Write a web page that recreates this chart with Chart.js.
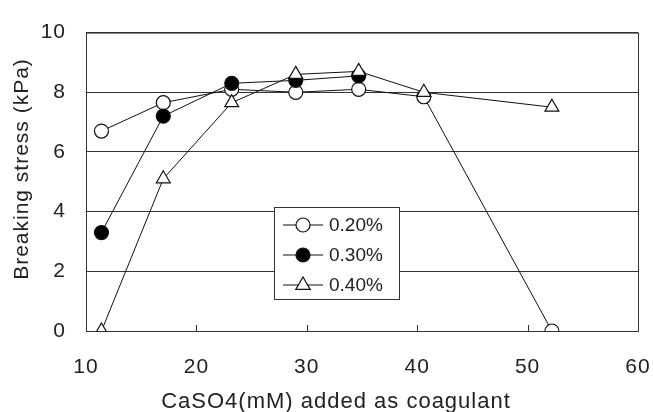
<html lang="en">
<head>
    <meta charset="UTF-8">
    <title>Breaking stress vs CaSO4</title>
    <script src="https://cdn.jsdelivr.net/npm/chart.js"></script>
    <style>
        body { margin: 0; background: #fff; }
        #wrap { width: 653px; height: 412px; }
    </style>
</head>
<body>
<div id="wrap"><canvas id="chart" width="653" height="412"></canvas></div>
<script>
    // data
    const caso4 = [11.4, 17.0, 23.2, 29.0, 34.7, 40.6, 52.2];
    const stress020 = [6.7, 7.65, 8.1, 8.0, 8.1, 7.85, 0];
    const stress030 = [3.3, 7.2, 8.3, 8.4, 8.55, null, null];
    const stress040 = [0, 5.1, 7.65, 8.6, 8.7, 8.0, 7.5];
    const seriesLabels = ["0.20%", "0.30%", "0.40%"];
    const xTicks = [10, 20, 30, 40, 50, 60];
    const yTicks = [0, 2, 4, 6, 8, 10];
    const xTitle = "CaSO4(mM) added as coagulant";
    const yTitle = "Breaking stress (kPa)";

    const font = "'Liberation Sans', Arial, sans-serif";
    const ink = "#222";

    function toPoints(vals) {
        const pts = [];
        vals.forEach((v, i) => { if (v !== null) pts.push({ x: caso4[i], y: v }); });
        return pts;
    }

    const styles = [
        { fill: "#fff", shape: "circle", order: 2 },
        { fill: "#000", shape: "circle", order: 1 },
        { fill: "#fff", shape: "triangle", order: 0 }
    ];
    const allSeries = [stress020, stress030, stress040];

    const datasets = allSeries.map((s, i) => ({
        label: seriesLabels[i],
        data: toPoints(s),
        order: styles[i].order,
        showLine: true,
        borderColor: "#111",
        borderWidth: 1,
        pointStyle: styles[i].shape,
        pointRadius: styles[i].shape === "triangle" ? 8 : 7,
        pointBackgroundColor: styles[i].fill,
        pointBorderColor: "#111",
        pointBorderWidth: 1.2
    }));

    // frame, inward x ticks, axis titles and the boxed legend inside the plot
    const extras = {
        id: "extras",
        beforeDraw(chart) {
            chart.ctx.letterSpacing = "1px";
        },
        afterDatasetsDraw(chart) {
            const ctx = chart.ctx;
            const a = chart.chartArea;
            const xs = chart.scales.x;
            ctx.save();
            ctx.strokeStyle = "#333";
            ctx.lineWidth = 1;
            ctx.strokeRect(a.left + 0.5, a.top + 0.5, a.right - a.left, a.bottom - a.top);
            xTicks.slice(1, -1).forEach(t => {
                const px = Math.round(xs.getPixelForValue(t)) + 0.5;
                ctx.beginPath();
                ctx.moveTo(px, a.bottom);
                ctx.lineTo(px, a.bottom - 6);
                ctx.stroke();
            });

            // axis titles
            ctx.fillStyle = ink;
            ctx.textAlign = "center";
            ctx.textBaseline = "middle";
            ctx.font = "22px " + font;
            ctx.letterSpacing = "1px";
            ctx.fillText(xTitle, 336, 402);
            ctx.save();
            ctx.translate(22, 169);
            ctx.rotate(-Math.PI / 2);
            ctx.font = "21px " + font;
            ctx.fillText(yTitle, 0, 0);
            ctx.restore();

            // legend box
            ctx.letterSpacing = "0px";
            const bx = 274, by = 207, bw = 125, bh = 92;
            ctx.fillStyle = "#fff";
            ctx.fillRect(bx, by, bw, bh);
            ctx.strokeStyle = "#333";
            ctx.lineWidth = 1;
            ctx.strokeRect(bx + 0.5, by + 0.5, bw, bh);
            chart.data.datasets.forEach((ds, i) => {
                const cy = by + 18 + i * 30;
                const mx = bx + 29;
                ctx.strokeStyle = "#111";
                ctx.lineWidth = 1;
                ctx.beginPath();
                ctx.moveTo(bx + 9, cy);
                ctx.lineTo(bx + 49, cy);
                ctx.stroke();
                ctx.fillStyle = ds.pointBackgroundColor;
                ctx.lineWidth = 1.2;
                ctx.beginPath();
                if (ds.pointStyle === "circle") {
                    ctx.arc(mx, cy, ds.pointRadius, 0, Math.PI * 2);
                } else {
                    const r = ds.pointRadius;
                    ctx.moveTo(mx, cy - r);
                    ctx.lineTo(mx + r * 0.9, cy + r * 0.55);
                    ctx.lineTo(mx - r * 0.9, cy + r * 0.55);
                    ctx.closePath();
                }
                ctx.fill();
                ctx.stroke();
                ctx.fillStyle = ink;
                ctx.font = "19px " + font;
                ctx.textBaseline = "middle";
                ctx.textAlign = "left";
                ctx.fillText(ds.label, bx + 55, cy + 1);
            });
            ctx.restore();
        }
    };

    new Chart(document.getElementById("chart"), {
        type: "scatter",
        data: { datasets: datasets },
        plugins: [extras],
        options: {
            responsive: false,
            animation: false,
            layout: { padding: { top: 25, right: 0, left: 0, bottom: 0 } },
            plugins: { legend: { display: false }, tooltip: { enabled: false } },
            scales: {
                x: {
                    min: 10, max: 60,
                    afterFit(scale) { scale.height = 81; scale.paddingRight = 15; scale.paddingLeft = 0; },
                    afterBuildTicks(scale) { scale.ticks = xTicks.map(v => ({ value: v })); },
                    grid: { display: false, drawTicks: false },
                    border: { display: false },
                    ticks: { color: ink, font: { family: font, size: 21 }, padding: 24, maxRotation: 0 }
                },
                y: {
                    min: 0, max: 10,
                    afterFit(scale) { scale.width = 86; },
                    afterBuildTicks(scale) { scale.ticks = yTicks.map(v => ({ value: v })); },
                    grid: { color: "#333", lineWidth: 1, drawTicks: false },
                    border: { display: false },
                    ticks: { color: ink, font: { family: font, size: 21 }, padding: 20 }
                }
            }
        }
    });
</script>
</body>
</html>
